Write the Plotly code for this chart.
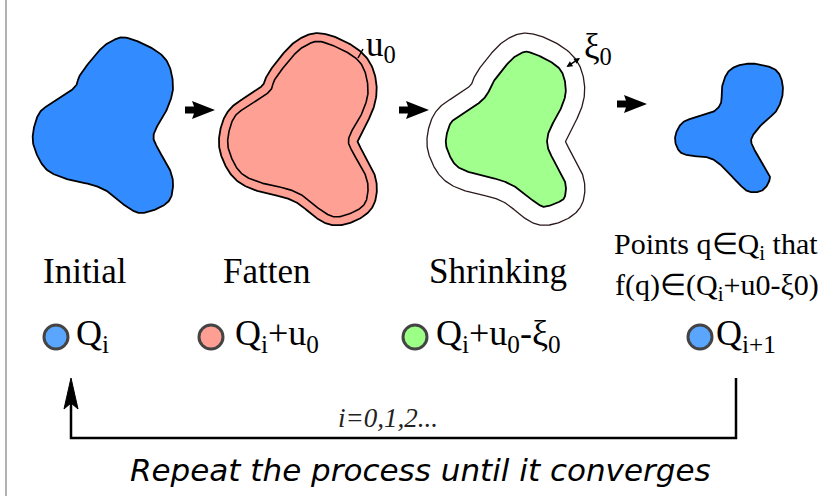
import numpy as np
import plotly.graph_objects as go

W, H = 833, 496

# ---- data: outline control points (pixel coords) ----
initial_x = [128, 163, 173, 168, 154, 157, 170, 173, 167, 143, 127, 110, 93, 70, 47, 35, 33, 40, 57, 75, 80, 97, 110]
initial_y = [38, 56, 83, 107, 133, 147, 170, 187, 203, 213, 207, 193, 185, 180, 170, 150, 133, 112, 100, 87, 75, 53, 42]

result_x = [757, 777, 783, 777, 763, 752, 753, 765, 770, 763, 750, 740, 723, 710, 693, 680, 675, 682, 697, 713, 721, 722, 728, 740]
result_y = [64, 71, 90, 110, 123, 137, 147, 167, 178, 190, 192, 185, 167, 158, 156, 152, 138, 123, 117, 112, 103, 87, 72, 65]

fatten_shift = (195, 4)
shrink_shift = (403, 4)
u0_px = 9
xi0_px = 19

stage_labels = ["Initial", "Fatten", "Shrinking"]
stage_x = [85, 266, 498]
legend_labels = ["Q<sub>i</sub>", "Q<sub>i</sub>+u<sub>0</sub>",
                 "Q<sub>i</sub>+u<sub>0</sub>-ξ<sub>0</sub>", "Q<sub>i+1</sub>"]
legend_x = [56, 211, 415, 700]
legend_text_x = [74, 233, 434, 714]
legend_colors = ["#5aa6ff", "#ff9e93", "#9cff86", "#5aa6ff"]

BLUE = "#338cff"
SALMON = "#ffa094"
GREEN = "#a0ff8d"
SERIF = "Liberation Serif"


def circ_smooth(O, k):
    Os = np.zeros_like(O)
    for s in range(-k, k + 1):
        Os += np.roll(O, s, axis=0)
    return Os / (2 * k + 1)


def closed_spline(xs, ys, n=24, k=3):
    P = np.column_stack([xs, ys]).astype(float)
    m = len(P)
    out = []
    t = np.linspace(0, 1, n, endpoint=False)[:, None]
    for i in range(m):
        p0, p1, p2, p3 = P[(i - 1) % m], P[i], P[(i + 1) % m], P[(i + 2) % m]
        seg = 0.5 * ((2 * p1) + (-p0 + p2) * t + (2 * p0 - 5 * p1 + 4 * p2 - p3) * t ** 2
                     + (-p0 + 3 * p1 - 3 * p2 + p3) * t ** 3)
        out.append(seg)
    return circ_smooth(np.vstack(out), k)


def offset(C, d, smooth=8):
    tng = np.roll(C, -1, axis=0) - np.roll(C, 1, axis=0)
    nrm = np.column_stack([tng[:, 1], -tng[:, 0]])
    nrm /= np.linalg.norm(nrm, axis=1)[:, None]
    c = C.mean(axis=0)
    if np.sum(np.einsum("ij,ij->i", nrm, C - c)) < 0:
        nrm = -nrm
    return circ_smooth(C + d * nrm, smooth)


def closed(C):
    return np.vstack([C, C[:1]])


base = closed_spline(initial_x, initial_y)
res = closed_spline(result_x, result_y)

fig = go.Figure()


def blob(C, fill, lc="black", lw=1.8):
    C = closed(C)
    fig.add_trace(go.Scatter(x=C[:, 0], y=C[:, 1], mode="lines", fill="toself",
                             fillcolor=fill, line=dict(color=lc, width=lw),
                             hoverinfo="skip"))


def outline(C, lc="black", lw=1.6):
    C = closed(C)
    fig.add_trace(go.Scatter(x=C[:, 0], y=C[:, 1], mode="lines",
                             line=dict(color=lc, width=lw), hoverinfo="skip"))


# Initial
blob(base, BLUE)
# Fatten
b2 = base + np.array(fatten_shift)
blob(offset(b2, u0_px), SALMON)
outline(b2)
# Shrinking
b3 = base + np.array(shrink_shift)
blob(offset(b3, u0_px), "white", lc="#2a1a1a", lw=1.3)
blob(offset(b3, -(xi0_px - u0_px)), GREEN)
# Result
blob(res, BLUE)

# legend circles
fig.add_trace(go.Scatter(x=legend_x, y=[337] * 4, mode="markers",
                         marker=dict(size=24, color=legend_colors,
                                     line=dict(color="#444444", width=3)),
                         hoverinfo="skip"))

shapes = []
# left border
shapes.append(dict(type="line", x0=6, x1=6, y0=0, y1=H, line=dict(color="#999999", width=1.5)))


def block_arrow(x0, y):
    pts = [(x0, y - 3.5), (x0 + 9, y - 3.5), (x0 + 7, y - 9), (x0 + 30, y),
           (x0 + 7, y + 9), (x0 + 9, y + 3.5), (x0, y + 3.5)]
    return "M " + " L ".join(f"{a},{b}" for a, b in pts) + " Z"


for ax0, ay in [(185, 110), (399, 110), (617, 104)]:
    shapes.append(dict(type="path", path=block_arrow(ax0, ay), fillcolor="black",
                       line=dict(width=0)))

# u0 tick
shapes.append(dict(type="line", x0=358, y0=58, x1=363, y1=49, line=dict(color="black", width=1.5)))

# feedback loop
shapes.append(dict(type="path", path="M 71,402 L 71,438 L 736,438 L 736,378",
                   line=dict(color="black", width=2.5)))
shapes.append(dict(type="path", path="M 71,378 L 78,409 L 71,403 L 64,409 Z",
                   fillcolor="black", line=dict(color="black", width=1)))

ann = []
# xi0 double arrow
ann.append(dict(x=580, y=58, ax=565, ay=68, xref="x", yref="y", axref="x", ayref="y",
                showarrow=True, arrowhead=2, startarrowhead=2, arrowside="end+start",
                arrowsize=0.8, startarrowsize=0.8, arrowwidth=1.5, arrowcolor="black", text=""))

ann.append(dict(x=364, y=46, text="u<sub>0</sub>", showarrow=False, xanchor="left",
                yanchor="middle", font=dict(family=SERIF, size=35, color="black")))
ann.append(dict(x=582, y=48, text="ξ<sub>0</sub>", showarrow=False, xanchor="left",
                yanchor="middle", font=dict(family=SERIF, size=35, color="black")))

for lab, sx in zip(stage_labels, stage_x):
    ann.append(dict(x=sx, y=271, text=lab, showarrow=False, xanchor="center", yanchor="middle",
                    font=dict(family=SERIF, size=35, color="black")))

ann.append(dict(x=716, y=246, text="Points q∈Q<sub>i</sub> that", showarrow=False,
                xanchor="center", yanchor="middle", font=dict(family=SERIF, size=30, color="black")))
ann.append(dict(x=717, y=287, text="f(q)∈(Q<sub>i</sub>+u0-ξ0)", showarrow=False,
                xanchor="center", yanchor="middle", font=dict(family=SERIF, size=30, color="black")))

for lab, lx in zip(legend_labels, legend_text_x):
    ann.append(dict(x=lx, y=335, text=lab, showarrow=False, xanchor="left", yanchor="middle",
                    font=dict(family=SERIF, size=36, color="black")))

ann.append(dict(x=388, y=418, text="<i>i=0,1,2...</i>", showarrow=False, xanchor="center",
                yanchor="middle", font=dict(family=SERIF, size=27, color="#222222")))
ann.append(dict(x=420, y=470, text="<i>Repeat the process until it converges</i>", showarrow=False,
                xanchor="center", yanchor="middle",
                font=dict(family="DejaVu Sans", size=31, color="black")))

fig.update_layout(
    width=W, height=H, margin=dict(l=0, r=0, t=0, b=0),
    paper_bgcolor="white", plot_bgcolor="white", showlegend=False,
    xaxis=dict(range=[0, W], visible=False, fixedrange=True),
    yaxis=dict(range=[H, 0], visible=False, fixedrange=True),
    shapes=shapes, annotations=ann,
)

fig.write_html("out.html", config={"displayModeBar": False},
               post_script="document.body.style.margin='0';document.body.style.overflow='hidden';")
